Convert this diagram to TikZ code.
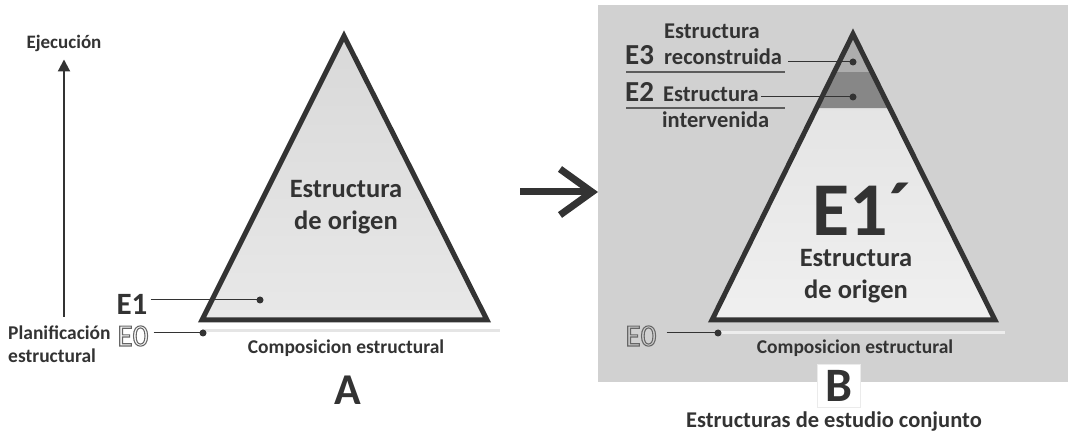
\documentclass[tikz,border=0pt]{standalone}
\usepackage{fontspec}
\setmainfont{Carlito}
\usetikzlibrary{arrows.meta,calc}
\definecolor{ink}{HTML}{333333}
\newcommand\hollow[1]{\special{pdf:literal direct 1 Tr 1.1 w}#1\special{pdf:literal direct 0 Tr}}

\begin{document}
\begin{tikzpicture}[x=1pt, y=-1pt,
  lbl/.style={text=ink, inner sep=0pt, font=\bfseries\fontsize{#1}{#1}\selectfont},
  two/.style={text=ink, inner sep=0pt, align=center, font=\bfseries\fontsize{26.5}{32}\selectfont},
  hol/.style={text=black!60, inner sep=0pt, font=\fontsize{31}{31}\selectfont},
  tri/.style={draw=ink, line width=5pt, line join=miter},
  lead/.style={draw=ink, line width=1pt},
  dot/.style={fill=ink},
  rule/.style={draw=ink!80, line width=1.2pt},
  up/.style={draw=ink, line width=2pt, -{Triangle[length=12pt, width=12pt]}},
  bigarr/.style={draw=ink, line width=7pt, -{Straight Barb[length=32pt, width=46pt]}},
  panel/.style={fill=black!18, inner sep=0pt}
]
\useasboundingbox (0,0) rectangle (1072,435);

% --- A: estructura de origen
\coordinate (tA) at (344,36);
\coordinate (lA) at (202,320);
\coordinate (rA) at (487,320);
\draw[black!10, line width=3pt] ($(lA)+(0,11)$) -- ($(rA)+(13,11)$);
\path[top color=black!15, bottom color=black!9] (tA) -- (lA) -- (rA) -- cycle;
\draw[tri] (tA) -- (lA) -- (rA) -- cycle;

\node[two, anchor=north] (oA) at (346,180) {Estructura\\de origen};
\node[lbl=19.5] (cA) at (346,348) {Composicion estructural};
\node[lbl=44] (A) at (348,390) {A};

\node[lbl=19] (ejec) at (64,43) {Ejecución};
\node[text=ink, inner sep=0pt, align=left, anchor=west,
      font=\bfseries\fontsize{19.5}{23}\selectfont] (plan) at (8,344) {Planificación\\estructural};
\coordinate (a0) at (64,317);
\draw[up, shorten >=8pt] (a0) -- (ejec.south);

\node[lbl=31, anchor=base] (e1) at (132,315) {E1};
\coordinate (d1) at (260,300);
\draw[lead] ([xshift=3pt]e1.east |- d1) -- (d1);
\fill[dot] (d1) circle (3.5pt);

\node[hol] (e0a) at (133,336) {\hollow{E0}};
\coordinate (d0a) at (203,333);
\draw[lead] ([xshift=5pt]e0a.east |- d0a) -- (d0a);
\fill[dot] (d0a) circle (3.5pt);

% --- B: estructuras de estudio conjunto
\node[panel, minimum width=470pt, minimum height=377pt, anchor=north west] (pB) at (598,5) {};
\coordinate (m0) at (520,192);
\draw[bigarr] (m0) -- (m0 -| pB.west);

\coordinate (tB) at (853,34);
\coordinate (lB) at (712,320);
\coordinate (rB) at (995,320);
\draw[black!7, line width=3pt] ($(lB)+(8,13)$) -- ($(rB)+(10,13)$);
\path[top color=black!12, bottom color=black!6] (tB) -- (lB) -- (rB) -- cycle;
\fill[black!32] (tB) -- ($(tB)!0.133!(lB)$) -- ($(tB)!0.133!(rB)$) -- cycle;
\fill[black!47] ($(tB)!0.133!(lB)$) -- ($(tB)!0.259!(lB)$) -- ($(tB)!0.259!(rB)$) -- ($(tB)!0.133!(rB)$) -- cycle;
\draw[tri] (tB) -- (lB) -- (rB) -- cycle;

\node[lbl=22.5, anchor=base west] (s3) at (664,39) {Estructura};
\node[lbl=29, anchor=base west] (e3) at (625,65) {E3};
\node[lbl=22.5, anchor=base west] (r3) at (664,65) {reconstruida};
\coordinate (d3) at (853,62);
\draw[lead] ([xshift=6pt]r3.east |- d3) -- (d3);
\fill[dot] (d3) circle (3.5pt);
\draw[rule] ($(e3.base west)+(1,7)$) -- ++(159,0);

\node[lbl=29, anchor=base west] (e2) at (625,102) {E2};
\node[lbl=22.5, anchor=base west] (s2) at (663,102) {Estructura};
\node[lbl=22.5, anchor=base west] (i2) at (662,128) {intervenida};
\coordinate (d2) at (853,97);
\draw[lead] ([xshift=2pt]s2.east |- d2) -- (d2);
\fill[dot] (d2) circle (3.5pt);
\draw[rule] ($(e2.base west)+(1,6)$) -- ++(159,0);

\node[lbl=76, anchor=base] (e1p) at (862,236) {E1´};
\node[two, anchor=north] (oB) at (856,249) {Estructura\\de origen};

\node[hol] (e0b) at (641,336) {\hollow{E0}};
\coordinate (d0b) at (718,333);
\draw[lead] ([xshift=10pt]e0b.east |- d0b) -- (d0b);
\fill[dot] (d0b) circle (3.5pt);

\node[lbl=19.5] (cB) at (855,348) {Composicion estructural};
\node[lbl=48, fill=white, draw=black!8, minimum width=43pt, minimum height=43pt] (B) at (839,386) {B};
\node[lbl=22.5] (conj) at (834,422) {Estructuras de estudio conjunto};
\end{tikzpicture}
\end{document}
